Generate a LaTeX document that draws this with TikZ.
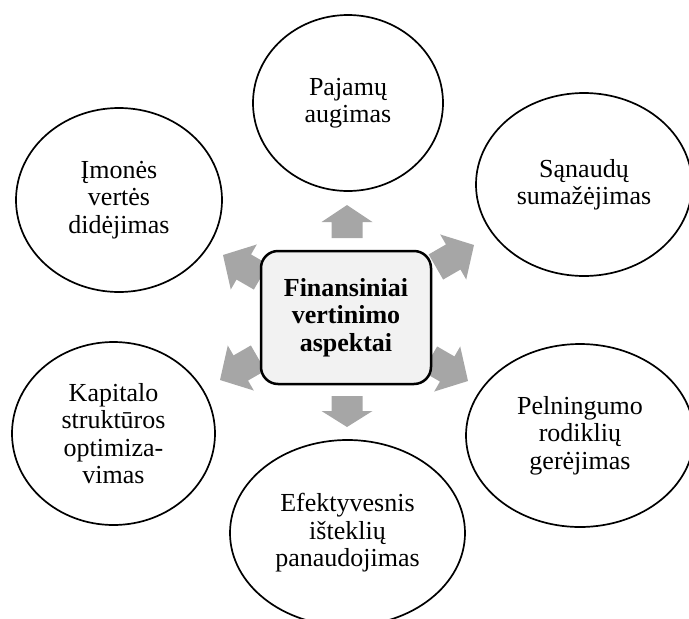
\documentclass[tikz,border=0pt]{standalone}
\usepackage{fontspec}
\setmainfont{Liberation Serif}
\usetikzlibrary{shapes.geometric}
\definecolor{arrowgray}{HTML}{A6A6A6}
\definecolor{boxfill}{HTML}{F2F2F2}
\tikzset{
  pics/blockarrow/.style n args={4}{code={
    \fill[arrowgray] (0,0) -- (-#1,#3/2) -- (-#1,#4/2) -- (-#2,#4/2)
      -- (-#2,-#4/2) -- (-#1,-#4/2) -- (-#1,-#3/2) -- cycle;
  }}
}
\begin{document}
\begin{tikzpicture}[x=1pt,y=-1pt,
  bubble/.style={ellipse, draw=black, line width=1.7pt, inner sep=0pt, align=center,
    font=\fontsize{26}{27.5}\selectfont},
  hub/.style={rectangle, rounded corners=17pt, draw=black, line width=2.5pt, fill=boxfill,
    minimum width=170pt, minimum height=133pt, inner sep=0pt, align=center,
    font=\bfseries\fontsize{26}{27.5}\selectfont}]
\useasboundingbox (0,0) rectangle (689,619);

% outer ellipses
\node[bubble, minimum width=190pt, minimum height=176pt] (paj) at (348,103) {Pajamų\\augimas};
\node[bubble, minimum width=206pt, minimum height=184pt] (imo) at (119,200) {Įmonės\\vertės\\didėjimas};
\node[bubble, minimum width=216pt, minimum height=183pt] (san) at (584,184.5) {Sąnaudų\\sumažėjimas};
\node[bubble, minimum width=203pt, minimum height=183pt] (kap) at (113.5,433.5) {Kapitalo\\struktūros\\optimiza-\\vimas};
\node[bubble, minimum width=228pt, minimum height=183pt] (pel) at (580,435.5) {Pelningumo\\rodiklių\\gerėjimas};
\node[bubble, minimum width=235pt, minimum height=186pt] (efe) at (347.5,533) {Efektyvesnis\\išteklių\\panaudojimas};

% block arrows (behind the hub)
\pic[rotate=90]  (aup) at (347,205) {blockarrow={17}{33}{51}{31}};
\pic[rotate=-90] (adn) at (347,427) {blockarrow={16}{31}{51}{31}};
\pic[rotate=30]  (aur) at (474,245) {blockarrow={24}{44}{52}{29}};
\pic[rotate=150] (aul) at (223,255) {blockarrow={24}{44}{52}{29}};
\pic[rotate=-30] (alr) at (468,381) {blockarrow={24}{44}{52}{29}};
\pic[rotate=210] (all) at (220,380) {blockarrow={24}{44}{52}{29}};

% central box
\node[hub] (hub) at (346,317.5) {Finansiniai\\vertinimo\\aspektai};
\end{tikzpicture}
\end{document}
